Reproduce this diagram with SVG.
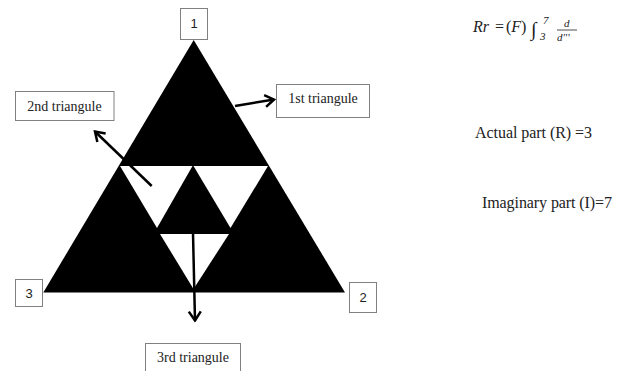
<svg xmlns="http://www.w3.org/2000/svg" width="627" height="371" viewBox="0 0 627 371">
<style>
.box{fill:#fff;stroke:#808080;stroke-width:1}
.lbl{font-family:"Liberation Serif",serif;font-size:14px;fill:#222;text-anchor:middle}
.num{font-family:"Liberation Sans",sans-serif;font-size:13px;fill:#222;text-anchor:middle}
.txt{font-family:"Liberation Serif",serif;font-size:16px;fill:#222}
.math{font-family:"Liberation Serif",serif;fill:#222;font-style:italic}
.arr{fill:none;stroke:#000;stroke-width:2.5;marker-end:url(#ah)}
</style>
<defs>
<marker id="ah" markerUnits="userSpaceOnUse" viewBox="-12 -8 14 16" refX="0" refY="0" markerWidth="14" markerHeight="16" orient="auto">
<path d="M-9,-6 L0,0 L-9,6" fill="none" stroke="#000" stroke-width="2.5"/>
</marker>
</defs>
<rect width="627" height="371" fill="#fff"/>
<g id="sierpinski">
<polygon points="193.7,40 43.3,292.5 345,292.5" fill="#000"/>
<polygon points="120,166 192.5,166 157,228" fill="#fff"/>
<polygon points="193.5,166 268,166 230.5,228" fill="#fff"/>
<polygon points="160,234 229,234 193.5,289" fill="#fff"/>
</g>
<g id="connectors">
<line class="arr" x1="235" y1="106" x2="274" y2="99.5"/>
<line class="arr" x1="151.7" y1="186" x2="95" y2="131.5"/>
<line class="arr" x1="193" y1="233" x2="195" y2="320.5"/>
</g>
<g id="node1">
<rect class="box" x="180.5" y="8.5" width="27" height="31"/>
<text class="num" x="194" y="27.5">1</text>
</g>
<g id="node2">
<rect class="box" x="349.5" y="282.5" width="27" height="30"/>
<text class="num" x="363" y="302">2</text>
</g>
<g id="node3">
<rect class="box" x="15.5" y="279.5" width="27" height="27"/>
<text class="num" x="29" y="298">3</text>
</g>
<g id="first">
<rect class="box" x="276.5" y="84.5" width="93" height="33"/>
<text class="lbl" x="323" y="103">1st triangule</text>
</g>
<g id="second">
<rect class="box" x="15.5" y="91.5" width="98.5" height="29"/>
<text class="lbl" x="64.5" y="110.5">2nd triangule</text>
</g>
<g id="third">
<rect class="box" x="145.5" y="343.5" width="95" height="30"/>
<text class="lbl" x="193" y="362">3rd triangule</text>
</g>
<g id="equation">
<text class="math" x="473" y="32" font-size="16">Rr</text>
<text class="math" x="494" y="32" font-size="16" font-style="normal">=</text>
<text class="math" x="506" y="32" font-size="16"><tspan font-style="normal">(</tspan>F<tspan font-style="normal">)</tspan></text>
<text class="math" x="531" y="36" font-size="20">∫</text>
<text class="math" x="543" y="24" font-size="11" font-style="normal">7</text>
<text class="math" x="540" y="40" font-size="11" font-style="normal">3</text>
<text class="math" x="564" y="27" font-size="11">d</text>
<line x1="557" y1="30" x2="577" y2="30" stroke="#222" stroke-width="0.8"/>
<text class="math" x="557" y="40.5" font-size="11">d'''</text>
</g>
<text class="txt" x="475" y="138" textLength="117">Actual part (R) =3</text>
<text class="txt" x="482" y="208" textLength="130">Imaginary part (I)=7</text>
</svg>
